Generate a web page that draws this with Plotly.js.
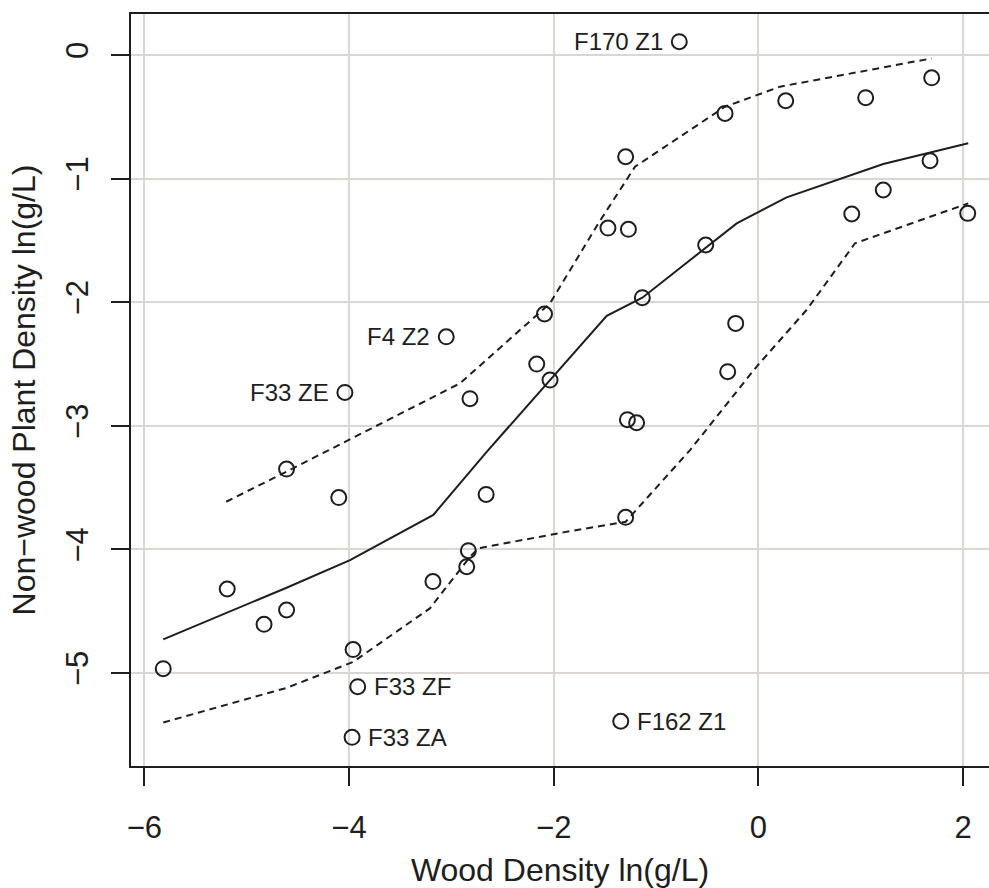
<!DOCTYPE html>
<html>
<head>
<meta charset="utf-8">
<script src="https://cdn.plot.ly/plotly-3.0.1.min.js"></script>
<style>html,body{margin:0;padding:0;background:#fff;}#chart{width:989px;height:888px;}</style>
</head>
<body>
<div id="chart"></div>
<script>
// Observed points: ln(wood density) vs ln(non-wood plant density)
const woodDensity = [-5.815,-5.19,-4.83,-4.61,-4.61,-4.10,-4.04,-3.05,-2.09,-2.166,-2.036,-2.818,-2.66,-3.18,-2.834,-2.85,-3.96,-3.915,-3.97,-1.345,-1.28,-1.19,-1.297,-0.773,-1.297,-1.47,-1.27,-0.326,0.267,1.048,1.693,1.677,1.22,0.912,2.045,-0.515,-1.134,-0.222,-0.30];
const nonWoodDensity = [-4.965,-4.32,-4.606,-4.49,-3.35,-3.58,-2.73,-2.28,-2.095,-2.50,-2.63,-2.78,-3.555,-4.26,-4.01,-4.14,-4.81,-5.11,-5.52,-5.39,-2.95,-2.975,-3.74,0.108,-0.823,-1.40,-1.41,-0.472,-0.37,-0.345,-0.184,-0.855,-1.092,-1.286,-1.281,-1.537,-1.963,-2.171,-2.562];
const pointLabels = ["","","","","","","F33 ZE","F4 Z2","","","","","","","","","","F33 ZF","F33 ZA","F162 Z1","","","","F170 Z1","","","","","","","","","","","","","","",""];

// Fitted curve (solid) and band limits (dashed)
const fitX = [-5.815,-4.61,-3.99,-3.176,-2.655,-2.036,-1.482,-1.134,-0.212,0.276,1.22,2.05];
const fitY = [-4.727,-4.31,-4.086,-3.72,-3.21,-2.63,-2.11,-1.963,-1.362,-1.151,-0.882,-0.714];
const upperX = [-5.2,-4.61,-2.915,-2.036,-1.564,-1.206,-0.326,0.211,1.693];
const upperY = [-3.614,-3.37,-2.656,-2.009,-1.362,-0.904,-0.418,-0.256,-0.027];
const lowerX = [-5.815,-4.61,-3.96,-3.21,-2.818,-2.737,-1.906,-1.297,-0.668,-0.017,0.47,0.944,2.05];
const lowerY = [-5.40,-5.12,-4.91,-4.477,-4.06,-3.991,-3.862,-3.776,-3.196,-2.52,-2.063,-1.523,-1.20];

const xTicks = [-6,-4,-2,0,2];
const yTicks = [0,-1,-2,-3,-4,-5];

const ink = '#1e1e1e';
const FONT = 'Liberation Sans, Arial, Helvetica, sans-serif';
const labelSide = {"F33 ZE":"left","F4 Z2":"left","F170 Z1":"left","F33 ZF":"right","F33 ZA":"right","F162 Z1":"right"};

const traces = [
  {x: upperX, y: upperY, type:'scatter', mode:'lines', line:{color:ink, width:2, dash:'7px,5px'}, hoverinfo:'skip'},
  {x: lowerX, y: lowerY, type:'scatter', mode:'lines', line:{color:ink, width:2, dash:'7px,5px'}, hoverinfo:'skip'},
  {x: fitX, y: fitY, type:'scatter', mode:'lines', line:{color:ink, width:2}, hoverinfo:'skip'},
  {x: woodDensity, y: nonWoodDensity, type:'scatter', mode:'markers',
   marker:{symbol:'circle-open', size:15, color:ink, line:{color:ink, width:2}}}
];

const annotations = [];
pointLabels.forEach((lab, i) => {
  if (!lab) return;
  const left = labelSide[lab] === 'left';
  annotations.push({
    x: woodDensity[i], y: nonWoodDensity[i], xref:'x', yref:'y',
    text: lab, showarrow:false,
    xanchor: left ? 'right' : 'left', yanchor:'middle',
    xshift: left ? -14 : 14, yshift: 0,
    font:{family:FONT, size:24, color:ink}
  });
});

const layout = {
  width: 989, height: 888,
  margin: {l:131, r:0, t:14, b:122},
  paper_bgcolor:'#ffffff', plot_bgcolor:'#ffffff',
  showlegend:false,
  font:{family:FONT, color:ink},
  xaxis: {
    range:[-6.13, 2.253], tickvals:xTicks, ticktext:xTicks.map(v => v<0 ? '\u2212'+Math.abs(v) : String(v)),
    showgrid:true, gridcolor:'#dcd6d2', gridwidth:2, zeroline:false,
    showline:true, mirror:true, linecolor:ink, linewidth:2,
    ticks:'outside', ticklen:18, tickwidth:2, tickcolor:ink,
    ticklabelstandoff:15,
    tickfont:{family:FONT, size:31, color:ink},
    title:{text:'Wood Density ln(g/L)', font:{family:FONT, size:32, color:ink}, standoff:18},
    automargin:false
  },
  yaxis: {
    range:[-5.752, 0.332], tickvals:yTicks, ticktext:yTicks.map(v => v<0 ? '\u2212'+Math.abs(v) : String(v)),
    tickangle:-90,
    showgrid:true, gridcolor:'#dcd6d2', gridwidth:2, zeroline:false,
    showline:true, mirror:false, linecolor:ink, linewidth:2,
    ticks:'outside', ticklen:18, tickwidth:2, tickcolor:ink,
    ticklabelstandoff:11,
    tickfont:{family:FONT, size:31, color:ink},
    title:{text:'Non\u2212wood Plant Density ln(g/L)', font:{family:FONT, size:32, color:ink}, standoff:14},
    automargin:false
  },
  annotations: annotations
};

Plotly.newPlot('chart', traces, layout, {displayModeBar:false, staticPlot:true});
</script>
</body>
</html>
